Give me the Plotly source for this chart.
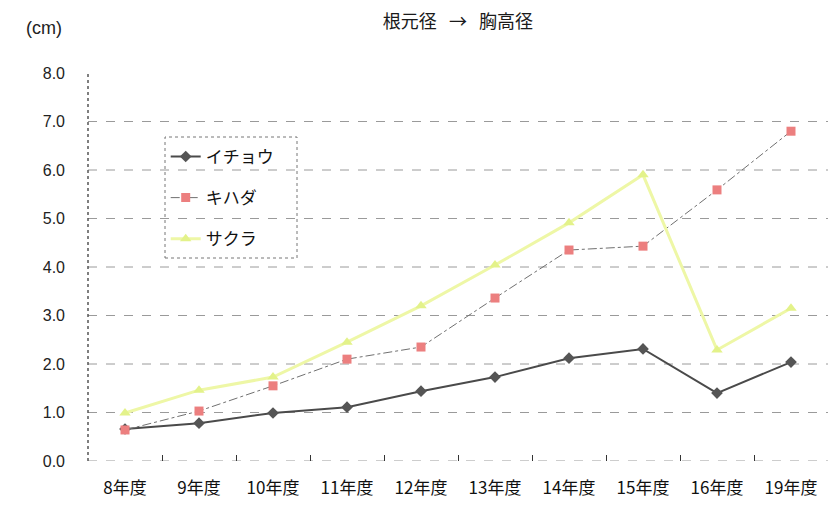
import plotly.graph_objects as go

# 年度ごとの幹径（cm）
years = ["8年度", "9年度", "10年度", "11年度", "12年度", "13年度", "14年度", "15年度", "16年度", "19年度"]
ichou = [0.66, 0.78, 0.99, 1.11, 1.44, 1.73, 2.12, 2.31, 1.40, 2.04]
kihada = [0.64, 1.03, 1.55, 2.10, 2.35, 3.36, 4.35, 4.43, 5.59, 6.80]
sakura = [0.99, 1.46, 1.73, 2.45, 3.20, 4.04, 4.91, 5.90, 2.29, 3.15]
y_ticks = [0, 1, 2, 3, 4, 5, 6, 7, 8]
y_labels = ["0.0", "1.0", "2.0", "3.0", "4.0", "5.0", "6.0", "7.0", "8.0"]

JP = "Noto Sans CJK JP"

fig = go.Figure()
fig.add_trace(go.Scatter(
    x=years, y=ichou, name="イチョウ", mode="lines+markers", legendgroup="a",
    line=dict(color="#4a4a4a", width=2),
    marker=dict(symbol="diamond", size=9, color="#555555"),
))
fig.add_trace(go.Scatter(
    x=years, y=kihada, name="キハダ", mode="lines+markers", legendgroup="b",
    line=dict(color="#707070", width=1, dash="dashdot"),
    marker=dict(symbol="square", size=9, color="#ec7f7f"),
))
fig.add_trace(go.Scatter(
    x=years, y=sakura, name="サクラ", mode="lines+markers", legendgroup="c",
    line=dict(color="#eef7a6", width=3),
    marker=dict(symbol="triangle-up", size=10, color="#e3f28a"),
))

# dashed horizontal grid lines (none at the top of the axis)
grid = [dict(type="line", xref="paper", yref="y", x0=0, x1=1, y0=v, y1=v,
             layer="below", line=dict(color="#9a9a9a", width=1, dash="dash"))
        for v in y_ticks[:-1]]

fig.update_layout(
    width=828, height=505,
    margin=dict(l=88, r=0, t=73, b=44),
    paper_bgcolor="white", plot_bgcolor="white",
    font=dict(family=JP, color="#222222", size=15),
    title=dict(text="根元径   →   胸高径", x=0.553, xanchor="center",
               y=1 - 22 / 505, yanchor="middle",
               font=dict(size=18, family=JP, color="#1a1a1a")),
    showlegend=True,
    legend=dict(x=0.105, y=0.83, xanchor="left", yanchor="top",
                bgcolor="rgba(255,255,255,0)", borderwidth=0,
                traceorder="grouped", tracegroupgap=16,
                font=dict(size=17, family=JP, color="#111111")),
    xaxis=dict(
        type="category", showgrid=False, zeroline=False, showline=False,
        ticks="inside", tickson="boundaries", ticklen=6, tickcolor="#333333",
        tickfont=dict(size=17, family=JP, color="#111111"),
        ticklabelstandoff=15,
        range=[-0.5, len(years) - 0.5],
    ),
    yaxis=dict(
        range=[0, 8], tickvals=y_ticks, ticktext=y_labels,
        showgrid=False, zeroline=False, showline=False, ticks="",
        tickfont=dict(size=16, family="Liberation Sans", color="#222222"),
        ticklabelstandoff=22,
    ),
    shapes=grid + [
        # dashed vertical axis
        dict(type="line", xref="paper", yref="paper", x0=0, x1=0, y0=0, y1=1,
             line=dict(color="#555555", width=1.5, dash="dot")),
        # dashed frame around the legend
        dict(type="rect", xref="paper", yref="paper",
             x0=(165 - 88) / 740, x1=(297 - 88) / 740,
             y0=(461 - 258) / 388, y1=(461 - 137) / 388,
             line=dict(color="#777777", width=1, dash="dot")),
    ],
    annotations=[
        dict(text="(cm)", xref="paper", yref="paper",
             x=-44 / 740, y=(461 - 28) / 388, xanchor="center", yanchor="middle",
             showarrow=False, font=dict(size=18, family="Liberation Sans", color="#222222")),
    ],
)

fig.write_html("out.html")
